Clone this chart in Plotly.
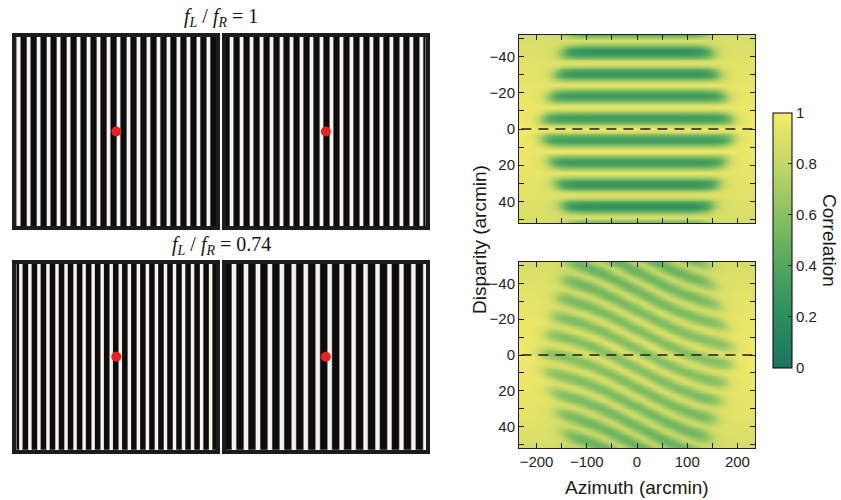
import numpy as np
import plotly.graph_objects as go

W, H = 841, 500

# ---------------- data ----------------
# gratings: cycles across each panel and position of first white bar (fraction of width)
GRATING_NAMES = ["top-left", "top-right", "bottom-left", "bottom-right"]
GRATING_CYCLES = [20.0, 20.0, 22.1, 16.7]
GRATING_FIRST_PEAK = [0.012, 0.028, 0.023, 0.040]
FIXATION_POINT = [0.5, 0.5]
RATIO_TITLES = ["1", "0.74"]

# correlation maps (arcmin)
AZ_RANGE = [-235, 235]
DISP_RANGE = [-52, 52]
STRIPE_PERIOD = [12.2, 10.8]        # disparity period of the dark bands (top, bottom)
STRIPE_SLOPE = [0.0, 0.15]          # d-shift per arcmin azimuth
STRIPE_OFFSET = [0.0, 2.0]
DARK_DEPTH = [0.66, 0.30]           # depth of dark bands
BASE_DROP = [0.0, 0.09]             # overall drop inside the window
WINDOW_HALF = [195, 1.1]            # half-width of window = a - b*|d|
WINDOW_CENTER = [0.0, 0.0]
BG_TOP, BG_DROP = 0.98, 0.11
CBAR_TICKS = [0, 0.2, 0.4, 0.6, 0.8, 1]

CORR_COLORS = [
    [0.0, "rgb(28,118,96)"],
    [0.2, "rgb(45,140,95)"],
    [0.4, "rgb(82,166,94)"],
    [0.6, "rgb(136,192,98)"],
    [0.8, "rgb(196,215,104)"],
    [1.0, "rgb(245,234,104)"],
]


def xd(a, b):
    return [a / W, b / W]


def yd(top, bottom):
    return [1 - bottom / H, 1 - top / H]


fig = go.Figure()

# ---------------- gratings ----------------
grating_boxes = [
    (xd(16.3, 216.3), yd(37, 226)),
    (xd(226, 425.7), yd(37, 226)),
    (xd(16.3, 216.3), yd(263.7, 449.7)),
    (xd(226, 425.7), yd(263.7, 449.7)),
]
gx = np.linspace(0, 1, 800)
for i, (c, p0) in enumerate(zip(GRATING_CYCLES, GRATING_FIRST_PEAK)):
    ax = i + 3
    prof = np.clip(1.4 * np.cos(2 * np.pi * c * (gx - p0)) + 0.05, 0, 1)
    z = np.vstack([prof, prof])
    fig.add_trace(go.Heatmap(
        x=gx, y=[0, 1], z=z, zmin=0, zmax=1,
        colorscale=[[0, "rgb(12,12,12)"], [0.5, "rgb(110,108,106)"], [1, "rgb(246,242,238)"]],
        showscale=False, hoverinfo="skip",
        xaxis=f"x{ax}", yaxis=f"y{ax}",
    ))
    fig.add_trace(go.Scatter(
        x=[FIXATION_POINT[0]], y=[FIXATION_POINT[1]], mode="markers",
        marker=dict(size=10, color="rgb(232,32,32)"),
        showlegend=False, hoverinfo="skip",
        xaxis=f"x{ax}", yaxis=f"y{ax}",
    ))
    dx, dy = grating_boxes[i]
    axcommon = dict(showgrid=False, zeroline=False, showticklabels=False, ticks="",
                    showline=True, mirror=True, linewidth=4, linecolor="rgb(28,28,28)",
                    range=[0, 1], fixedrange=True)
    fig.update_layout({
        f"xaxis{ax}": dict(domain=dx, anchor=f"y{ax}", **axcommon),
        f"yaxis{ax}": dict(domain=dy, anchor=f"x{ax}", **axcommon),
    })

# ---------------- correlation maps ----------------
az = np.linspace(AZ_RANGE[0], AZ_RANGE[1], 236)
dp = np.linspace(DISP_RANGE[0], DISP_RANGE[1], 105)
A, D = np.meshgrid(az, dp)
bg = BG_TOP - BG_DROP * (np.abs(D) / 52.0) ** 1.5

for k in range(2):
    half = WINDOW_HALF[0] - WINDOW_HALF[1] * np.abs(D)
    env = 1 / (1 + np.exp(-(half - np.abs(A - WINDOW_CENTER[k])) / 9.0))
    shift = STRIPE_SLOPE[k] * 160 * np.tanh(A / 160.0)
    ph = 2 * np.pi * (D - shift - STRIPE_OFFSET[k]) / STRIPE_PERIOD[k]
    band = ((1 - np.cos(ph)) / 2) ** 0.8
    z = bg - env * (BASE_DROP[k] + DARK_DEPTH[k] * band)
    xa = "x" if k == 0 else "x2"
    ya = "y" if k == 0 else "y2"
    tr = dict(
        x=az, y=dp, z=z, zmin=0, zmax=1, zsmooth="best",
        colorscale=CORR_COLORS, hoverinfo="skip", xaxis=xa, yaxis=ya,
    )
    if k == 0:
        tr.update(showscale=True, colorbar=dict(
            x=772.7 / W, xanchor="left", xpad=0, ypad=0,
            y=1 - 240.4 / H, yanchor="middle", len=255.3 / H, lenmode="fraction",
            thickness=19, outlinewidth=1, outlinecolor="black",
            tickvals=CBAR_TICKS,
            ticktext=[f"{v:g}" for v in CBAR_TICKS],
            ticks="inside", ticklen=4, tickcolor="rgb(40,40,40)",
            tickfont=dict(family="Liberation Sans, Arial", size=15, color="rgb(30,30,30)"),
        ))
    else:
        tr.update(showscale=False)
    fig.add_trace(go.Heatmap(**tr))

map_axis = dict(showgrid=False, zeroline=False, showline=True, mirror="ticks",
                linewidth=1, linecolor="rgb(30,30,30)", ticks="inside", ticklen=5,
                tickcolor="rgb(30,30,30)",
                tickfont=dict(family="Liberation Sans, Arial", size=15, color="rgb(30,30,30)"))
minor_x = dict(dtick=50, tick0=0, ticks="inside", ticklen=5, tickcolor="rgb(30,30,30)")
minor_y = dict(dtick=10, tick0=0, ticks="inside", ticklen=5, tickcolor="rgb(30,30,30)")
fig.update_layout(
    xaxis=dict(domain=xd(519, 755), anchor="y", range=AZ_RANGE, tickvals=[-200, -100, 0, 100, 200],
               showticklabels=False, minor=minor_x, **map_axis),
    yaxis=dict(domain=yd(35, 223), anchor="x", range=[DISP_RANGE[1], DISP_RANGE[0]],
               tickvals=[-40, -20, 0, 20, 40], minor=minor_y, **map_axis),
    xaxis2=dict(domain=xd(519, 755), anchor="y2", range=AZ_RANGE, tickvals=[-200, -100, 0, 100, 200],
                minor=minor_x, **map_axis),
    yaxis2=dict(domain=yd(262, 448), anchor="x2", range=[DISP_RANGE[1], DISP_RANGE[0]],
                tickvals=[-40, -20, 0, 20, 40], minor=minor_y, **map_axis),
)

# zero-disparity dashed lines
for xr, yr in [("x domain", "y"), ("x2 domain", "y2")]:
    fig.add_shape(type="line", xref=xr, yref=yr, x0=0.01, x1=1, y0=0, y1=0,
                  line=dict(color="rgb(30,30,30)", width=1.5, dash="10px,7px"))

# ---------------- text ----------------
ann = []
for txt, ypix in zip(RATIO_TITLES, [17, 245]):
    ann.append(dict(
        text=f"<i>f</i><sub><i>L</i></sub> / <i>f</i><sub><i>R</i></sub> = {txt}",
        x=221 / W, y=1 - ypix / H, xref="paper", yref="paper", showarrow=False,
        xanchor="center", yanchor="middle",
        font=dict(family="Liberation Serif, Times New Roman", size=20, color="rgb(20,20,20)")))
ann.append(dict(text="Disparity (arcmin)", x=479 / W, y=1 - 240 / H, xref="paper", yref="paper",
                showarrow=False, textangle=-90, xanchor="center", yanchor="middle",
                font=dict(family="Liberation Sans, Arial", size=19, color="rgb(25,25,25)")))
ann.append(dict(text="Azimuth (arcmin)", x=637 / W, y=1 - 487 / H, xref="paper", yref="paper",
                showarrow=False, xanchor="center", yanchor="middle",
                font=dict(family="Liberation Sans, Arial", size=19, color="rgb(25,25,25)")))
ann.append(dict(text="Correlation", x=830 / W, y=1 - 240 / H, xref="paper", yref="paper",
                showarrow=False, textangle=90, xanchor="center", yanchor="middle",
                font=dict(family="Liberation Sans, Arial", size=19, color="rgb(25,25,25)")))

fig.update_layout(
    width=W, height=H, margin=dict(l=0, r=0, t=0, b=0),
    paper_bgcolor="white", plot_bgcolor="white", showlegend=False,
    annotations=ann,
)

fig.write_html("out.html", config={"displayModeBar": False},
               post_script="document.body.style.margin='0px';")
